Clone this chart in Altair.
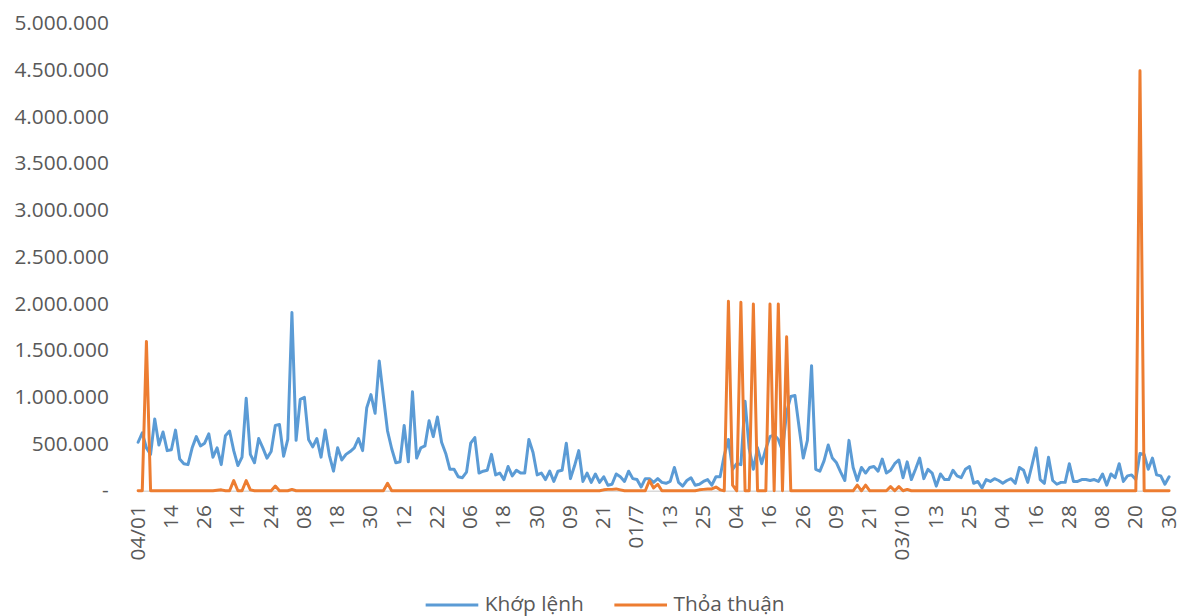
import altair as alt
import pandas as pd

# Trading volume (shares) per session, 249 sessions
khop_lenh = [
    520000, 620000, 460000, 390000, 770000, 490000, 630000, 430000, 440000, 650000,
    340000, 290000, 280000, 460000, 580000, 480000, 510000, 610000, 360000, 460000,
    280000, 590000, 640000, 430000, 270000, 360000, 990000, 390000, 300000, 560000,
    460000, 350000, 420000, 700000, 710000, 370000, 550000, 1910000, 540000, 980000,
    1000000, 550000, 470000, 560000, 360000, 650000, 380000, 210000, 460000, 330000,
    390000, 420000, 460000, 560000, 430000, 890000, 1030000, 830000, 1390000, 1010000,
    640000, 450000, 300000, 310000, 700000, 310000, 1060000, 350000, 460000, 480000,
    750000, 580000, 790000, 520000, 400000, 230000, 230000, 150000, 140000, 200000,
    510000, 570000, 190000, 210000, 220000, 390000, 170000, 190000, 120000, 260000,
    160000, 220000, 190000, 190000, 550000, 410000, 170000, 190000, 120000, 210000,
    100000, 210000, 220000, 510000, 130000, 270000, 430000, 100000, 190000, 90000,
    180000, 90000, 150000, 60000, 70000, 180000, 150000, 100000, 210000, 130000,
    120000, 40000, 130000, 130000, 90000, 130000, 90000, 80000, 100000, 250000,
    90000, 50000, 110000, 140000, 60000, 70000, 100000, 120000, 60000, 150000,
    150000, 380000, 550000, 230000, 290000, 280000, 960000, 450000, 230000, 460000,
    290000, 450000, 580000, 600000, 550000, 430000, 840000, 1010000, 1020000, 680000,
    350000, 540000, 1340000, 230000, 210000, 320000, 490000, 350000, 300000, 200000,
    110000, 540000, 250000, 110000, 250000, 190000, 250000, 260000, 210000, 340000,
    190000, 220000, 290000, 330000, 140000, 310000, 120000, 230000, 350000, 130000,
    230000, 190000, 50000, 180000, 120000, 120000, 220000, 160000, 140000, 230000,
    260000, 80000, 100000, 30000, 120000, 100000, 130000, 110000, 80000, 110000,
    130000, 80000, 250000, 220000, 90000, 270000, 460000, 120000, 80000, 360000,
    110000, 70000, 90000, 90000, 290000, 100000, 100000, 120000, 120000, 110000,
    120000, 100000, 180000, 60000, 180000, 140000, 290000, 100000, 160000, 170000,
    120000, 400000, 390000, 230000, 350000, 170000, 160000, 70000, 150000,
]

thoa_thuan = [
    0, 0, 1600000, 0, 0, 0, 0, 0, 0, 0,
    0, 0, 0, 0, 0, 0, 0, 0, 0, 5000,
    10000, 0, 0, 110000, 0, 0, 110000, 10000, 0, 0,
    0, 0, 0, 50000, 0, 0, 0, 15000, 0, 0,
    0, 0, 0, 0, 0, 0, 0, 0, 0, 0,
    0, 0, 0, 0, 0, 0, 0, 0, 0, 0,
    80000, 0, 0, 0, 0, 0, 0, 0, 0, 0,
    0, 0, 0, 0, 0, 0, 0, 0, 0, 0,
    0, 0, 0, 0, 0, 0, 0, 0, 0, 0,
    0, 0, 0, 0, 0, 0, 0, 0, 0, 0,
    0, 0, 0, 0, 0, 0, 0, 0, 0, 0,
    0, 0, 10000, 15000, 15000, 20000, 10000, 0, 0, 0,
    0, 0, 0, 110000, 30000, 70000, 0, 0, 0, 0,
    0, 0, 0, 0, 0, 10000, 15000, 20000, 20000, 40000,
    10000, 0, 2030000, 60000, 0, 2020000, 0, 0, 2000000, 0,
    0, 0, 2000000, 0, 2000000, 0, 1650000, 0, 0, 0,
    0, 0, 0, 0, 0, 0, 0, 0, 0, 0,
    0, 0, 0, 60000, 0, 60000, 0, 0, 0, 0,
    0, 45000, 0, 45000, 0, 15000, 0, 0, 0, 0,
    0, 0, 0, 0, 0, 0, 0, 0, 0, 0,
    0, 0, 0, 0, 0, 0, 0, 0, 0, 0,
    0, 0, 0, 0, 0, 0, 0, 0, 0, 0,
    0, 0, 0, 0, 0, 0, 0, 0, 0, 0,
    0, 0, 0, 0, 0, 0, 0, 0, 0, 0,
    0, 4500000, 0, 0, 0, 0, 0, 0, 0,
]

tick_labels = ["04/01", "14", "26", "14", "24", "08", "18", "30", "12", "22",
               "06", "18", "30", "09", "21", "01/7", "13", "25", "04", "16",
               "26", "09", "21", "03/10", "13", "25", "04", "16", "28", "08",
               "20", "30"]
label_step = 8

y_ticks = [0, 500000, 1000000, 1500000, 2000000, 2500000, 3000000,
           3500000, 4000000, 4500000, 5000000]

series_names = ["Khớp lệnh", "Thỏa thuận"]
series_colors = ["#5B9BD5", "#ED7D31"]

n = len(khop_lenh)
df = pd.DataFrame({
    "idx": list(range(n)) * 2,
    "value": khop_lenh + thoa_thuan,
    "series": [series_names[0]] * n + [series_names[1]] * n,
})

FONT = "Open Sans"
TXT = "#595959"

x_expr = "[" + ",".join("'" + t + "'" for t in tick_labels) + "][round(datum.value / %d)]" % label_step
y_expr = "datum.value == 0 ? '-' : replace(format(datum.value, ','), regexp(',', 'g'), '.')"

x_enc = alt.X(
    "idx:Q",
    scale=alt.Scale(domain=[0, n - 1], nice=False, zero=False),
    axis=alt.Axis(
        values=list(range(0, n, label_step)), labelExpr=x_expr, title=None,
        labelAngle=270, labelFontSize=21, labelFont=FONT, labelColor=TXT,
        labelPadding=14, ticks=False, tickSize=0, grid=False,
        domain=True, domainColor="#D9D9D9", domainWidth=1.5,
        labelOverlap=False, labelFlush=False,
    ),
)
y_enc = alt.Y(
    "value:Q",
    scale=alt.Scale(domain=[0, 5000000], nice=False),
    axis=alt.Axis(
        values=y_ticks, labelExpr=y_expr, title=None,
        labelFontSize=21, labelFont=FONT, labelColor=TXT,
        labelPadding=30, ticks=False, tickSize=0, grid=False, domain=False,
        labelOverlap=False, labelFlush=False,
    ),
)
color_enc = alt.Color(
    "series:N",
    scale=alt.Scale(domain=series_names, range=series_colors),
    legend=alt.Legend(
        title=None, orient="none", direction="horizontal",
        legendX=288, legendY=557, padding=0,
        symbolType="stroke", symbolSize=2809, symbolStrokeWidth=3,
        labelFontSize=21, labelFont=FONT, labelColor=TXT, labelOffset=5,
        columnPadding=24,
    ),
)

base = alt.Chart(df)
blue = base.transform_filter(alt.datum.series == series_names[0]).mark_line(
    strokeWidth=3, strokeJoin="round", strokeCap="round"
).encode(x=x_enc, y=y_enc, color=color_enc)
orange = base.transform_filter(alt.datum.series == series_names[1]).mark_line(
    strokeWidth=3, strokeJoin="round", strokeCap="round"
).encode(x=x_enc, y=y_enc, color=color_enc)

chart = alt.layer(blue, orange).properties(
    width=1038, height=470,
    autosize=alt.AutoSizeParams(type="none"),
    padding={"left": 131, "top": 14, "right": 12, "bottom": 124},
).configure_view(stroke=None)

chart.save("out.html", embed_options={"renderer": "svg", "actions": False})
